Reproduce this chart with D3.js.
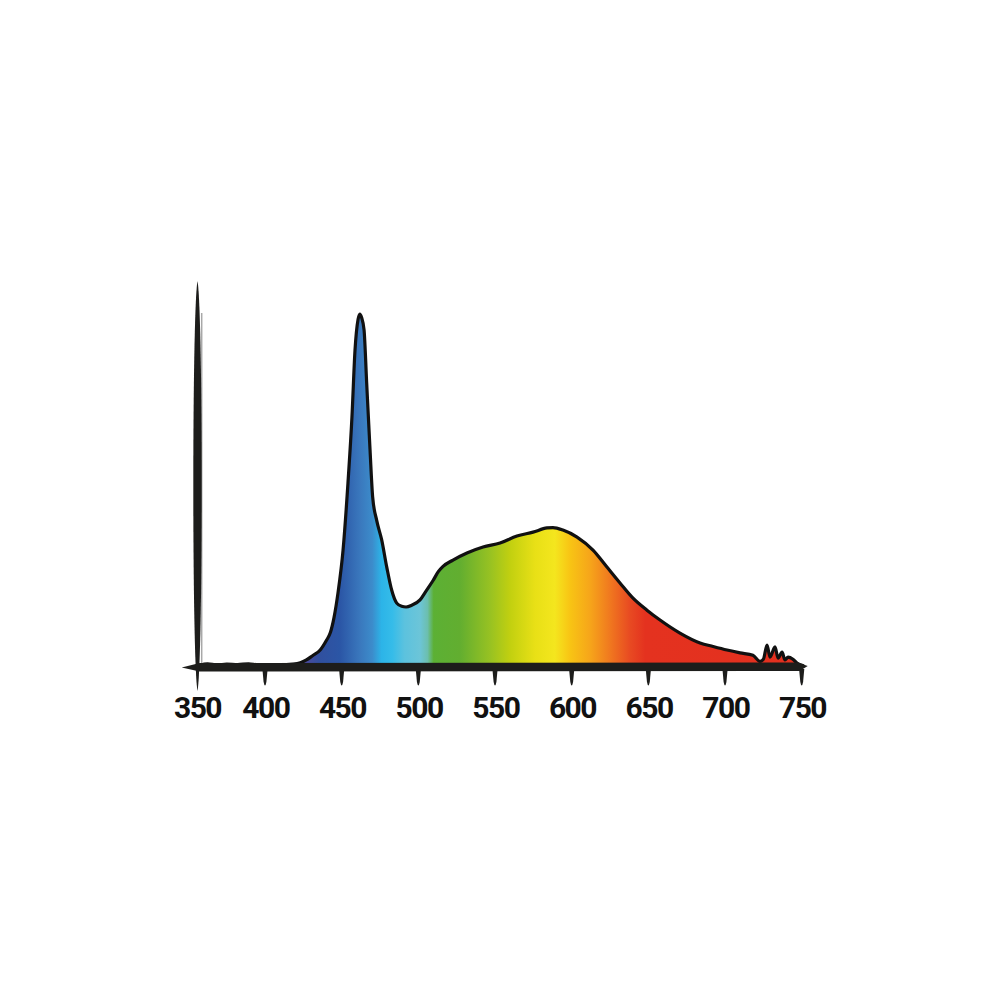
<!DOCTYPE html>
<html>
<head>
<meta charset="utf-8">
<script src="https://cdn.jsdelivr.net/npm/d3@7"></script>
<style>
  html, body { margin: 0; padding: 0; background: #ffffff; }
  svg { display: block; }
</style>
</head>
<body>
<svg id="chart" width="1000" height="1000"></svg>
<script>
// ---- Data ----
const wavelengths = [352, 358, 365, 372, 380, 388, 395, 403, 410, 418, 423, 427, 431, 436, 440, 442.5, 445, 447.6, 450.9, 454.1, 456.7, 458.7, 460.7, 461.8, 463, 464.6, 466.3, 468.5, 470.2, 472.8, 476.1, 479.4, 482.6, 485.9, 489.1, 492, 495.7, 501.1, 505, 509.6, 513, 516.1, 522.6, 531.7, 542.2, 553.3, 564.3, 574.8, 583.9, 587.8, 594.3, 603.5, 613.9, 623, 631.5, 640, 649.1, 657.6, 670.6, 683.7, 692.2, 701.3, 709.8, 718.2, 722.8, 725, 727.4, 729.3, 732.6, 734.6, 737.2, 739.1, 741.1, 744.3, 746.9, 750.8];
const intensity = [0.005, 0.009, 0.006, 0.008, 0.007, 0.009, 0.006, 0.007, 0.006, 0.008, 0.012, 0.02, 0.032, 0.048, 0.075, 0.096, 0.14, 0.21, 0.331, 0.521, 0.708, 0.898, 0.985, 1.0, 0.99, 0.955, 0.805, 0.615, 0.482, 0.416, 0.36, 0.283, 0.218, 0.181, 0.172, 0.17, 0.175, 0.19, 0.215, 0.245, 0.27, 0.285, 0.303, 0.323, 0.34, 0.351, 0.371, 0.382, 0.394, 0.395, 0.388, 0.368, 0.331, 0.283, 0.238, 0.195, 0.161, 0.133, 0.096, 0.068, 0.058, 0.048, 0.04, 0.033, 0.016, 0.022, 0.062, 0.028, 0.057, 0.025, 0.042, 0.02, 0.028, 0.022, 0.011, 0.004];

const tickValues = [350, 400, 450, 500, 550, 600, 650, 700, 750];
const tickLabels = ["350", "400", "450", "500", "550", "600", "650", "700", "750"];

// spectrum colours along the wavelength axis
const gradWavelengths = [426, 436, 449, 462, 470, 476, 483, 491, 501, 506, 510, 527, 547, 560, 576, 589, 599, 612, 625, 638, 648, 751];
const gradColors = ["#4c4a9c", "#30509f", "#2b56a6", "#3a78bd", "#3c8ccb", "#2cb4e8", "#35bce9", "#5cc2de", "#6cc5d8", "#6cbfae", "#5cb034", "#62ae30", "#98c222", "#c2d010", "#e8e016", "#f4e61e", "#f8c414", "#f6a51a", "#f0781f", "#e84a22", "#e4321f", "#e3301f"];

const data = wavelengths.map((w, i) => ({ w, v: intensity[i] }));

// ---- Scales ----
const x = d3.scaleLinear().domain([350, 400, 750]).range([196.7, 265, 801.7]);
const y = d3.scaleLinear().domain([0, 1]).range([667, 314]);

const svg = d3.select("#chart");

// gradient
const defs = svg.append("defs");
const grad = defs.append("linearGradient")
  .attr("id", "spectrum")
  .attr("gradientUnits", "userSpaceOnUse")
  .attr("x1", x(350)).attr("x2", x(750))
  .attr("y1", 0).attr("y2", 0);
grad.selectAll("stop")
  .data(gradWavelengths)
  .enter().append("stop")
  .attr("offset", d => (x(d) - x(350)) / (x(750) - x(350)))
  .attr("stop-color", (d, i) => gradColors[i]);

// area
const area = d3.area()
  .x(d => x(d.w))
  .y0(y(0))
  .y1(d => y(d.v))
  .curve(d3.curveMonotoneX);
const line = d3.line()
  .x(d => x(d.w))
  .y(d => y(d.v))
  .curve(d3.curveMonotoneX);

svg.append("path")
  .datum(data)
  .attr("d", area)
  .attr("fill", "url(#spectrum)");

svg.append("path")
  .datum(data)
  .attr("d", line)
  .attr("fill", "none")
  .attr("stroke", "#111")
  .attr("stroke-width", 3.2)
  .attr("stroke-linejoin", "round")
  .attr("stroke-linecap", "round");

// grey shadow line beside the vertical axis
svg.append("line")
  .attr("x1", x(350) + 5).attr("x2", x(350) + 5)
  .attr("y1", 313).attr("y2", y(0) - 2)
  .attr("stroke", "#a8a8a8")
  .attr("stroke-width", 1.5);

// baseline (tapered brush stroke)
const bx0 = x(350) - 15, bx1 = x(750) + 6, by = y(0);
svg.append("path")
  .attr("d", `M${bx0},${by + 0.5} L${bx0 + 18},${by - 4} L${bx1 - 10},${by - 4.5} L${bx1},${by - 1} L${bx1 - 8},${by + 4} L${bx0 + 18},${by + 4.5} Z`)
  .attr("fill", "#1d1d1b");

// tick spikes
svg.selectAll(".tick")
  .data(tickValues.slice(1))
  .enter().append("path")
  .attr("class", "tick")
  .attr("d", d => {
    const cx = x(d);
    return `M${cx - 2.6},${by + 2} L${cx + 2.6},${by + 2} L${cx + 1.4},${by + 15} Q${cx},${by + 22} ${cx - 1.4},${by + 15} Z`;
  })
  .attr("fill", "#1d1d1b");

// vertical axis (tapered)
const vx = x(350) + 0.8, vt = 281, vb = 691;
svg.append("path")
  .attr("d", `M${vx},${vt} C${vx + 5.6},${vt + 30} ${vx + 5.6},${vb - 30} ${vx},${vb} C${vx - 5.6},${vb - 30} ${vx - 5.6},${vt + 30} ${vx},${vt} Z`)
  .attr("fill", "#1d1d1b");

// tick labels
svg.selectAll(".lbl")
  .data(tickValues)
  .enter().append("text")
  .attr("class", "lbl")
  .attr("x", d => x(d) + 0.8)
  .attr("y", 718)
  .attr("text-anchor", "middle")
  .attr("font-family", "Roboto, 'Liberation Sans', sans-serif")
  .attr("font-weight", 700)
  .attr("font-size", 30)
  .attr("letter-spacing", "-1.5px")
  .attr("fill", "#111")
  .text((d, i) => tickLabels[i]);
</script>
</body>
</html>
